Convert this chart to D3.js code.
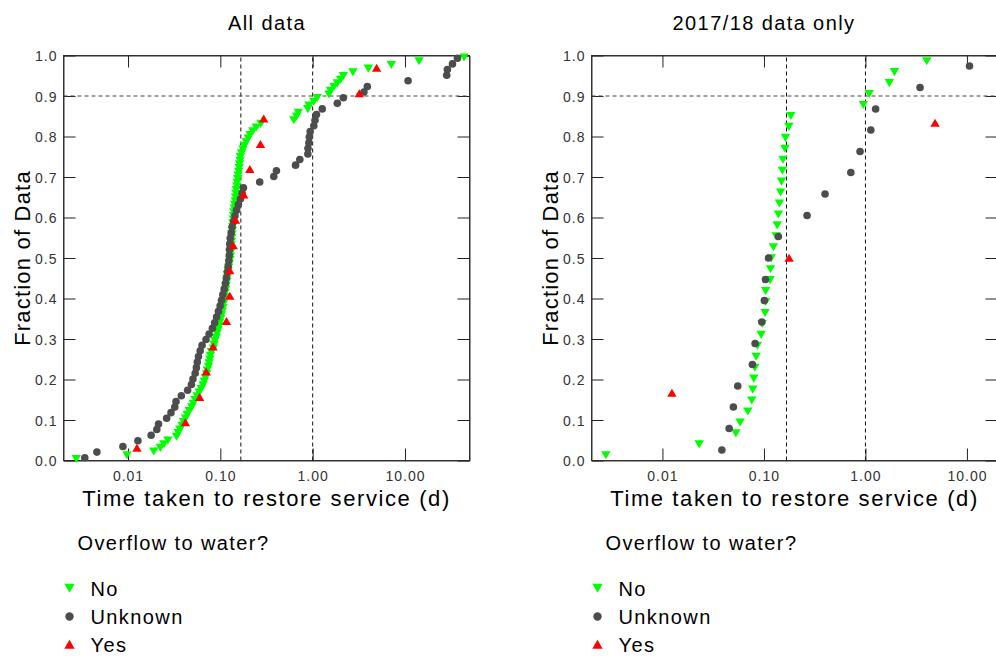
<!DOCTYPE html>
<html><head><meta charset="utf-8">
<script src="https://cdn.jsdelivr.net/npm/d3@7"></script>
<style>
body{margin:0;background:#fff;}
svg{display:block;font-family:"Liberation Sans",Arial,sans-serif;}
</style>
</head><body>
<script>
// ---------------- data ----------------
const categories = ["No", "Unknown", "Yes"];
const legendTitle = "Overflow to water?";
const panelTitles = ["All data", "2017/18 data only"];
const xLabel = "Time taken to restore service (d)";
const yLabel = "Fraction of Data";
const xTickValues = [0.01, 0.1, 1, 10];
const yTickValues = [0, 0.1, 0.2, 0.3, 0.4, 0.5, 0.6, 0.7, 0.8, 0.9, 1.0];
const refLinesX = [0.1667, 1.0];
const refLineY = [0.9];

// All data
const allNoX = [0.00275,0.00975,0.0190,0.0224,0.0245,0.0270,0.0335,0.0350,0.0365,0.0385,
  0.0400,0.0420,0.0438,0.0460,0.0490,0.0510,0.0530,0.0560,0.0590,0.0620,
  0.0650,0.0670,0.0690,0.0710,0.0720,0.0745,0.0755,0.0770,0.0780,0.0800,
  0.0842,0.0855,0.0875,0.0898,0.0920,0.0945,0.0965,0.0988,0.1010,0.1028,
  0.1048,0.1068,0.1082,0.1097,0.1110,0.1128,0.1145,0.1160,0.1172,0.1183,
  0.1198,0.1215,0.1232,0.1250,0.1272,0.1288,0.1295,0.1303,0.1310,0.1318,
  0.1328,0.1340,0.1350,0.1360,0.1372,0.1382,0.1392,0.1400,0.1415,0.1432,
  0.1450,0.1460,0.1475,0.1490,0.1508,0.1520,0.1538,0.1558,0.1580,0.1600,
  0.1615,0.1635,0.1650,0.1700,0.1760,0.1820,0.1910,0.2010,0.2100,0.2250,
  0.2450,0.2750,0.6250,0.6700,0.6980,0.8870,0.9100,1.0300,1.1200,1.5000,
  1.5600,1.7000,1.8500,2.0100,2.1500,2.7300,4.0100,7.1200,14.200,43.600];
const allNoY = [0.0045,0.0136,0.0227,0.0318,0.0409,0.0500,0.0591,0.0682,0.0773,0.0864,
  0.0955,0.1045,0.1136,0.1227,0.1318,0.1409,0.1500,0.1591,0.1682,0.1773,
  0.1864,0.1955,0.2045,0.2136,0.2227,0.2318,0.2409,0.2500,0.2591,0.2682,
  0.2773,0.2864,0.2955,0.3045,0.3136,0.3227,0.3318,0.3409,0.3500,0.3591,
  0.3682,0.3773,0.3864,0.3955,0.4045,0.4136,0.4227,0.4318,0.4409,0.4500,
  0.4591,0.4682,0.4773,0.4864,0.4955,0.5045,0.5136,0.5227,0.5318,0.5409,
  0.5500,0.5591,0.5682,0.5773,0.5864,0.5955,0.6045,0.6136,0.6227,0.6318,
  0.6409,0.6500,0.6591,0.6682,0.6773,0.6864,0.6955,0.7045,0.7136,0.7227,
  0.7318,0.7409,0.7500,0.7591,0.7682,0.7773,0.7864,0.7955,0.8045,0.8136,
  0.8227,0.8318,0.8409,0.8500,0.8591,0.8682,0.8773,0.8864,0.8955,0.9045,
  0.9136,0.9227,0.9318,0.9409,0.9500,0.9591,0.9682,0.9773,0.9864,0.9955];

const allUnknownX = [0.0034,0.0046,0.0088,0.0128,0.0178,0.0205,0.0214,0.0262,0.0292,0.0321,
  0.0331,0.0378,0.0442,0.0486,0.0505,0.0534,0.0550,0.0563,0.0580,0.0605,
  0.0634,0.0700,0.0755,0.0820,0.0867,0.0910,0.0953,0.0995,0.1030,0.1065,
  0.1100,0.1135,0.1165,0.1190,0.1215,0.1235,0.1250,0.1255,0.1265,0.1280,
  0.1310,0.1340,0.1390,0.1440,0.1500,0.1570,0.1650,0.1720,0.1780,0.2670,
  0.3790,0.4050,0.6530,0.7260,0.8870,0.8900,0.9100,0.9200,0.9400,1.0300,
  1.0600,1.1000,1.2700,1.8500,2.1500,3.5900,3.9100,10.800,28.300,28.800,
  32.700,37.000];
const allUnknownY = [0.0069,0.0208,0.0347,0.0486,0.0625,0.0764,0.0903,0.1042,0.1181,0.1319,
  0.1458,0.1597,0.1736,0.1875,0.2014,0.2153,0.2292,0.2431,0.2569,0.2708,
  0.2847,0.2986,0.3125,0.3264,0.3403,0.3542,0.3681,0.3819,0.3958,0.4097,
  0.4236,0.4375,0.4514,0.4653,0.4792,0.4931,0.5069,0.5208,0.5347,0.5486,
  0.5625,0.5764,0.5903,0.6042,0.6181,0.6319,0.6458,0.6597,0.6736,0.6875,
  0.7014,0.7153,0.7292,0.7431,0.7569,0.7708,0.7847,0.7986,0.8125,0.8264,
  0.8403,0.8542,0.8681,0.8819,0.8958,0.9097,0.9236,0.9375,0.9514,0.9653,
  0.9792,0.9931];

const allYesX = [0.0125,0.0418,0.0597,0.0702,0.0834,0.1164,0.1265,0.1265,0.1377,0.1460,
  0.1790,0.2085,0.2720,0.2950,3.2000,4.9300];
const allYesY = [0.031,0.094,0.156,0.219,0.281,0.344,0.406,0.469,0.531,0.594,
  0.656,0.719,0.781,0.844,0.906,0.969];

// 2017/18 data only
const recentNoX = [0.00277,0.0230,0.0529,0.0582,0.0693,0.0758,0.0776,0.0794,0.0813,0.0838,
  0.0863,0.0938,0.0960,0.1026,0.1040,0.1040,0.1150,0.1160,0.1180,0.1240,
  0.1320,0.1350,0.1390,0.1420,0.1460,0.1490,0.1520,0.1540,0.1610,0.1630,
  0.1760,0.1840,0.9550,1.0900,1.7200,1.9300,4.0200];
const recentNoY = [0.0135,0.0405,0.0676,0.0946,0.1216,0.1486,0.1757,0.2027,0.2297,0.2568,
  0.2838,0.3108,0.3378,0.3649,0.3919,0.4189,0.4459,0.4730,0.5000,0.5270,
  0.5541,0.5811,0.6081,0.6351,0.6622,0.6892,0.7162,0.7432,0.7703,0.7973,
  0.8243,0.8514,0.8784,0.9054,0.9324,0.9595,0.9865];

const recentUnknownX = [0.0385,0.0454,0.0500,0.0552,0.0769,0.0818,0.0953,0.1010,0.1035,0.1110,
  0.1387,0.2660,0.4000,0.7180,0.8850,1.1300,1.2600,3.4500,10.600];
const recentUnknownY = [0.026,0.079,0.132,0.184,0.237,0.289,0.342,0.395,0.447,0.500,
  0.553,0.605,0.658,0.711,0.763,0.816,0.868,0.921,0.974];

const recentYesX = [0.0124,0.177,4.85];
const recentYesY = [0.1667,0.5,0.8333];

// ---------------- drawing ----------------
const colors = {"No":"#00ff00","Unknown":"#4d4d4d","Yes":"#ff0000"};
const W = 996, H = 656;
const svg = d3.select("body").append("svg").attr("width", W).attr("height", H);

const zip = (xs, ys) => xs.map((v, i) => ({x: v, y: ys[i]}));

function marker(sel, cat, s) {
  if (cat === "Unknown") {
    sel.append("circle").attr("r", 3.8 * s).attr("fill", colors[cat]);
  } else if (cat === "No") {
    sel.append("path").attr("d", `M${-4.7*s},${-3.8*s}L${4.7*s},${-3.8*s}L0,${4.3*s}Z`).attr("fill", colors[cat]);
  } else {
    sel.append("path").attr("d", `M${-4.7*s},${3.8*s}L${4.7*s},${3.8*s}L0,${-4.3*s}Z`).attr("fill", colors[cat]);
  }
}

const panels = [
  {x0: 63.5, x1: 469.5, xmax: 50, title: panelTitles[0], titleX: 267, series: [
     ["No", zip(allNoX, allNoY)], ["Unknown", zip(allUnknownX, allUnknownY)], ["Yes", zip(allYesX, allYesY)]]},
  {x0: 591.5, x1: 997.5, xmax: 20, title: panelTitles[1], titleX: 764, series: [
     ["No", zip(recentNoX, recentNoY)], ["Unknown", zip(recentUnknownX, recentUnknownY)], ["Yes", zip(recentYesX, recentYesY)]]}
];

const yTop = 55.5, yBot = 460.5;

panels.forEach(p => {
  const g = svg.append("g");
  const x = d3.scaleLog().domain([0.002, p.xmax]).range([p.x0, p.x1]);
  const y = d3.scaleLinear().domain([0, 1]).range([yBot, yTop]);
  const mid = (p.x0 + p.x1) / 2;

  // frame
  g.append("rect").attr("x", p.x0).attr("y", yTop).attr("width", p.x1 - p.x0).attr("height", yBot - yTop)
    .attr("fill", "none").attr("stroke", "#333").attr("stroke-width", 1);

  // axes with inward ticks
  const ax = (axis, tr) => g.append("g").attr("transform", tr).call(axis)
      .call(s => s.select(".domain").attr("stroke", "#333"))
      .call(s => s.selectAll(".tick line").attr("stroke", "#222"));
  const bottom = ax(d3.axisBottom(x).tickValues(xTickValues).tickFormat(d3.format(".2f")).tickSize(-12).tickSizeOuter(0), `translate(0,${yBot})`);
  bottom.selectAll(".tick text").attr("y", 20.5).attr("dy", 0).attr("font-size", 14)
    .attr("fill", "#333").attr("letter-spacing", "1px").attr("font-family", "Liberation Sans, Arial, sans-serif");
  ax(d3.axisTop(x).tickValues(xTickValues).tickFormat("").tickSize(-12).tickSizeOuter(0), `translate(0,${yTop})`);
  const left = ax(d3.axisLeft(y).tickValues(yTickValues).tickFormat(d3.format(".1f")).tickSize(-12).tickSizeOuter(0), `translate(${p.x0},0)`);
  left.selectAll(".tick text").attr("x", -6).attr("dy", "0.36em").attr("font-size", 14)
    .attr("fill", "#333").attr("letter-spacing", "1px").attr("font-family", "Liberation Sans, Arial, sans-serif");
  ax(d3.axisRight(y).tickValues(yTickValues).tickFormat("").tickSize(-12).tickSizeOuter(0), `translate(${p.x1},0)`);

  // reference lines
  refLinesX.forEach(v => g.append("line").attr("x1", x(v)).attr("x2", x(v)).attr("y1", yBot).attr("y2", yTop)
    .attr("stroke", "#111").attr("stroke-dasharray", "4,3"));
  refLineY.forEach(v => g.append("line").attr("x1", p.x0).attr("x2", p.x1).attr("y1", y(v)).attr("y2", y(v))
    .attr("stroke", "#444").attr("stroke-dasharray", "4,3"));

  // points
  p.series.forEach(([cat, pts]) => {
    g.append("g").selectAll("g").data(pts).join("g")
      .attr("transform", d => `translate(${x(d.x)},${y(d.y)})`)
      .each(function() { marker(d3.select(this), cat, 1); });
  });

  // titles & labels
  g.append("text").attr("x", p.titleX).attr("y", 30).attr("text-anchor", "middle")
    .attr("font-size", 20).attr("letter-spacing", "1.4px").text(p.title);
  g.append("text").attr("x", mid + 0).attr("y", 506).attr("text-anchor", "middle")
    .attr("font-size", 22).attr("letter-spacing", "1.6px").text(xLabel);
  g.append("text").attr("transform", `translate(${p.x0 - 34},${(yTop + yBot) / 2}) rotate(-90)`)
    .attr("text-anchor", "middle").attr("font-size", 22).attr("letter-spacing", "1.2px").text(yLabel);

  // legend
  const lx = p.x0;
  g.append("text").attr("x", lx + 14).attr("y", 550).attr("font-size", 20).attr("letter-spacing", "1.4px").text(legendTitle);
  categories.forEach((c, i) => {
    const cy = [588, 616.5, 644.5][i];
    const m = g.append("g").attr("transform", `translate(${lx + 6},${cy})`);
    marker(m, c, 1.1);
    g.append("text").attr("x", lx + 27).attr("y", cy + 7.5).attr("font-size", 20).attr("letter-spacing", "1.4px").text(c);
  });
});
</script>
</body></html>
